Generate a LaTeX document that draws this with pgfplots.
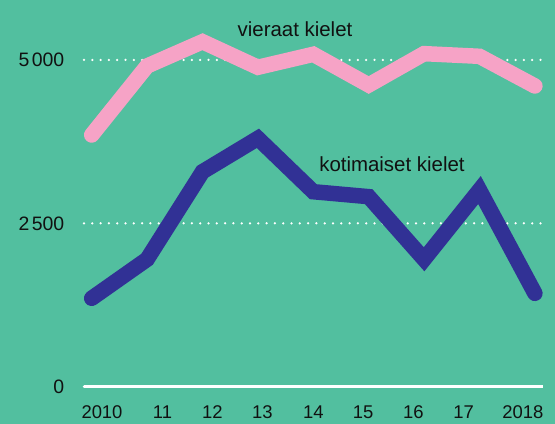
\documentclass[border=0pt]{standalone}
\usepackage{pgfplots}
\pgfplotsset{compat=1.18}
\usepackage{fontspec}
\setmainfont{Liberation Sans}

\definecolor{bg}{HTML}{52BF9F}
\definecolor{pinkline}{HTML}{F6A3C6}
\definecolor{blueline}{HTML}{313195}
\definecolor{txt}{HTML}{111111}

\begin{document}
\begin{tikzpicture}
\fill[bg] (0,0) rectangle (555bp,424bp);

\begin{axis}[
  at={(84bp,37.3bp)}, anchor=south west,
  scale only axis,
  width=458.7bp, height=386.7bp,
  xmin=2009.861, xmax=2018.141,
  ymin=0, ymax=5918,
  clip=false,
  axis line style={draw=none},
  major tick length=0pt,
  /pgf/number format/assume math mode=true,
  ytick={0,2500,5000},
  yticklabels={0,2\kern2.5bp500,5\kern2.5bp000},
  xtick={2010.186,2011.278,2012.179,2013.083,2014.0,2014.901,2015.805,2016.715,2017.785},
  xticklabels={2010,11,12,13,14,15,16,17,2018},
  ticklabel style={text=txt, inner sep=0pt},
  yticklabel style={anchor=east, xshift=-19.5bp, font=\fontsize{19.5}{21}\selectfont},
  xticklabel style={anchor=base, yshift=-31.6bp, font=\fontsize{18.5}{20}\selectfont},
  ymajorgrids,
  grid style={white, line width=2.5bp, line cap=round, dash pattern=on 0bp off 8.3bp},
]

\draw[white, line width=2.5bp] (axis cs:2009.861,0) -- (axis cs:2018.141,0);

% vieraat kielet
\addplot[pinkline, line width=15.5bp, line cap=round, line join=miter] coordinates {
(2010,3852) (2011,4908) (2012,5280) (2013,4888) (2014,5087)
(2015,4617) (2016,5097) (2017,5056) (2018,4602)
};

% kotimaiset kielet
\addplot[blueline, line width=15.5bp, line cap=round, line join=miter] coordinates {
(2010,1353) (2011,1950) (2012,3290) (2013,3801) (2014,2984)
(2015,2908) (2016,1950) (2017,3010) (2018,1429)
};

\node[text=txt, font=\fontsize{20.5}{22}\selectfont] at (axis cs:2013.67,5474) {vieraat kielet};
\node[text=txt, font=\fontsize{20.5}{22}\selectfont] at (axis cs:2015.42,3401) {kotimaiset kielet};
\end{axis}

\pgfresetboundingbox
\path (0,0) rectangle (555bp,424bp);
\end{tikzpicture}
\end{document}
